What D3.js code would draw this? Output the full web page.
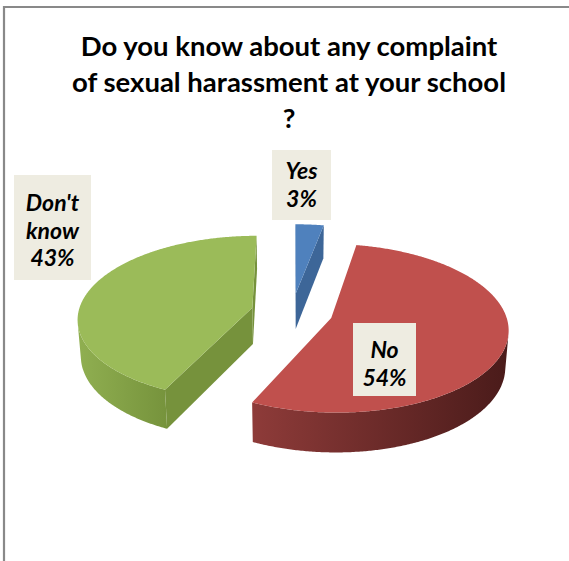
<!DOCTYPE html>
<html>
<head>
<meta charset="utf-8">
<script src="https://cdn.jsdelivr.net/npm/d3@7"></script>
<style>
  body { margin: 0; background: #fff; }
  svg { display: block; }
</style>
</head>
<body>
<script>
// ---- data ----
const categories = ["Yes", "No", "Don't know"];
const values = [3, 54, 43];
const labelWords = [["Yes"], ["No"], ["Don't", "know"]];
const titleLines = ["Do you know about any complaint", "of sexual harassment at your school", "?"];

// ---- styles ----
const palette = [
  { top: "#4F81BD", wallL: "#4A78AF", wallR: "#3A6191", face: "#3D6698" },
  { top: "#C0504D", wallL: "#8E3B39", wallR: "#4A1B1A", face: "#8E3B39" },
  { top: "#9BBB59", wallL: "#90AF51", wallR: "#76933C", face: "#76923C" }
];
const labelFont = 23, labelLead = 27.6;
const labelBoxes = [
  { x: 272, y: 150, w: 59, h: 70, cx: 301.5, base: 179 },
  { x: 353, y: 323, w: 63, h: 73, cx: 384.5, base: 358 },
  { x: 14, y: 175, w: 77, h: 105, cx: 52.5, base: 211 }
];

const W = 569, H = 561;
const svg = d3.select("body").append("svg").attr("width", W).attr("height", H);
const defs = svg.append("defs");

// frame
svg.append("path")
  .attr("d", `M4,${H} V7 H${W}`)
  .attr("fill", "none").attr("stroke", "#898989").attr("stroke-width", 2.2);

// title
const title = svg.append("text")
  .attr("text-anchor", "middle")
  .attr("font-family", "Lato, 'Open Sans', sans-serif")
  .attr("font-weight", "bold")
  .attr("font-size", 27.5)
  .attr("fill", "#000");
titleLines.forEach((t, i) => {
  title.append("tspan").attr("x", 289).attr("y", 56 + i * 36).text(t);
});

// ---- 3D pie projection ----
const phi = 28 * Math.PI / 180, camD = 7.33, focal = 1275;
const cx0 = 292, cy0 = 312, thick = 0.24, explode = 0.235;
const sinP = Math.sin(phi), cosP = Math.cos(phi);
const camX = 0, camZ = -camD * cosP;
function project(X, Z, h) {
  const dep = camD + Z * cosP - h * sinP;
  return [cx0 + focal * X / dep, cy0 - focal * (Z * sinP + h * cosP) / dep];
}

const total = d3.sum(values);
const arcs = d3.pie().sort(null).value(d => d)(values);
const slices = arcs.map((a, i) => {
  const mid = (a.startAngle + a.endAngle) / 2;
  return { i, a0: a.startAngle, a1: a.endAngle,
           ox: explode * Math.sin(mid), oz: explode * Math.cos(mid) };
});
slices.sort((a, b) => b.oz - a.oz); // far slices first

const line = d3.line();
const stepAng = Math.PI / 360;

slices.forEach(s => {
  const col = palette[s.i];
  const g = svg.append("g");
  const rim = (t, h) => project(s.ox + Math.sin(t), s.oz + Math.cos(t), h);
  const ctr = h => project(s.ox, s.oz, h);

  // radial faces
  [[s.a0, -1], [s.a1, 1]].forEach(([a, sign]) => {
    const nx = sign * Math.cos(a), nz = -sign * Math.sin(a);
    const px = s.ox + 0.5 * Math.sin(a), pz = s.oz + 0.5 * Math.cos(a);
    const dot = (camX - px) * nx + (camZ - pz) * nz;
    if (dot > 0) {
      const pts = [ctr(0), rim(a, 0), rim(a, -thick), ctr(-thick)];
      g.append("path").attr("d", line(pts) + "Z").attr("fill", col.face);
    }
  });

  // outer wall: collect visible angular runs
  const n = Math.max(2, Math.ceil((s.a1 - s.a0) / stepAng));
  const runs = [];
  let cur = null;
  for (let k = 0; k <= n; k++) {
    const t = s.a0 + (s.a1 - s.a0) * k / n;
    const px = s.ox + Math.sin(t), pz = s.oz + Math.cos(t);
    const dot = (camX - px) * Math.sin(t) + (camZ - pz) * Math.cos(t);
    if (dot > 0) { if (!cur) { cur = []; runs.push(cur); } cur.push(t); }
    else cur = null;
  }
  runs.forEach((run, r) => {
    if (run.length < 2) return;
    const topPts = run.map(t => rim(t, 0));
    const botPts = run.slice().reverse().map(t => rim(t, -thick));
    const pts = topPts.concat(botPts);
    const xs = pts.map(p => p[0]);
    const id = `wall${s.i}_${r}`;
    const grad = defs.append("linearGradient").attr("id", id)
      .attr("gradientUnits", "userSpaceOnUse")
      .attr("x1", d3.min(xs)).attr("x2", d3.max(xs)).attr("y1", 0).attr("y2", 0);
    grad.append("stop").attr("offset", 0).attr("stop-color", col.wallL);
    grad.append("stop").attr("offset", 1).attr("stop-color", col.wallR);
    g.append("path").attr("d", line(pts) + "Z").attr("fill", `url(#${id})`);
  });

  // top surface
  const topPts = [ctr(0)];
  for (let k = 0; k <= n; k++) topPts.push(rim(s.a0 + (s.a1 - s.a0) * k / n, 0));
  g.append("path").attr("d", line(topPts) + "Z").attr("fill", col.top);
});

// data labels
labelBoxes.forEach((b, i) => {
  const g = svg.append("g");
  g.append("rect").attr("x", b.x).attr("y", b.y).attr("width", b.w).attr("height", b.h)
    .attr("fill", "#EEECE1");
  const lines = labelWords[i].concat([Math.round(values[i] / total * 100) + "%"]);
  const t = g.append("text")
    .attr("text-anchor", "middle")
    .attr("font-family", "Lato, 'Open Sans', sans-serif")
    .attr("font-weight", "bold").attr("font-style", "italic")
    .attr("font-size", labelFont).attr("fill", "#000");
  lines.forEach((l, j) => t.append("tspan").attr("x", b.cx).attr("y", b.base + j * labelLead).text(l));
});
</script>
</body>
</html>
